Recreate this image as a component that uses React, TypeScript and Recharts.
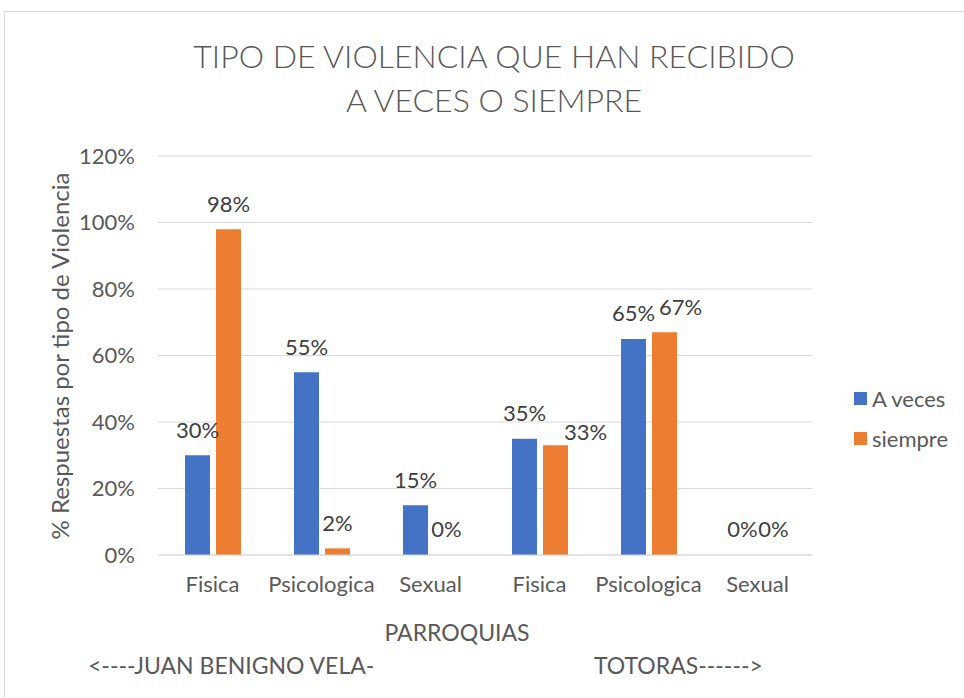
import React from 'react';
import { BarChart, Bar, XAxis, YAxis, CartesianGrid, LabelList, Cell } from 'recharts';

const categories = ['Fisica', 'Psicologica', 'Sexual', 'Fisica', 'Psicologica', 'Sexual'];
const aVeces = [30, 55, 15, 35, 65, 0];
const siempre = [98, 2, 0, 33, 67, 0];
const yTicks = [0, 20, 40, 60, 80, 100, 120];

const data = categories.map((name, i) => ({ name, aVeces: aVeces[i], siempre: siempre[i] }));

const FONT = 'Lato, "Open Sans", sans-serif';
const GRAY = '#595959';
const LABEL = '#404040';
const BLUE = '#4472C4';
const ORANGE = '#ED7D31';
const LABEL_SIZE = 22;
const LABEL_GAP = 26;

// manual nudges of the "siempre" labels that were dragged aside in the original
const siempreNudge: Record<number, [number, number]> = { 3: [30, 12], 4: [16, 0] };

const pct = (v: any) => `${v}%`;
// zero bars get a 1px invisible bar so their "0%" label still shows
const minSize = (v: any) => (v === 0 ? 1 : 0);

const makeLabel = (nudge: Record<number, [number, number]>) => (props: any) => {
  const { x, y, width, value, index } = props;
  const [dx, dy] = nudge[index] || [0, 0];
  return (
    <text
      x={Number(x) + Number(width) / 2 + dx}
      y={Number(y) - LABEL_GAP + dy}
      textAnchor="middle"
      dominantBaseline="central"
      fill={LABEL}
      fontSize={LABEL_SIZE}
      fontFamily={FONT}
    >
      {pct(value)}
    </text>
  );
};

const App: React.FC = () => {
  return (
    <div style={{ position: 'absolute', left: 0, top: 0, width: 964, height: 698, background: '#fff', overflow: 'hidden', fontFamily: FONT }}>
      <div style={{ position: 'absolute', left: 4, top: 11, width: 980, height: 720, border: '1px solid #d9d9d9' }} />

      <div style={{ position: 'absolute', left: 0, top: 34, width: 988, textAlign: 'center', color: GRAY, fontSize: 32, lineHeight: '44px', fontWeight: 300 }}>
        TIPO DE VIOLENCIA QUE HAN RECIBIDO
        <br />
        A VECES O SIEMPRE
      </div>

      <BarChart
        width={964}
        height={698}
        data={data}
        margin={{ top: 156, right: 152, bottom: 113, left: 0 }}
        barSize={25}
        barGap={6}
        style={{ position: 'absolute', left: 0, top: 0 }}
      >
        <CartesianGrid vertical={false} stroke="#d9d9d9" />
        <XAxis
          dataKey="name"
          height={30}
          tickLine={false}
          axisLine={{ stroke: '#d9d9d9' }}
          tick={{ fill: GRAY, fontSize: 22, fontFamily: FONT }}
          tickMargin={15}
          interval={0}
        />
        <YAxis
          width={158}
          domain={[0, 120]}
          ticks={yTicks}
          tickFormatter={pct}
          tickLine={false}
          axisLine={false}
          tick={{ fill: GRAY, fontSize: 22, fontFamily: FONT }}
          tickMargin={17}
        />
        <Bar dataKey="aVeces" fill={BLUE} minPointSize={minSize} isAnimationActive={false}>
          {aVeces.map((v, i) => (
            <Cell key={i} fill={v === 0 ? 'transparent' : BLUE} />
          ))}
          <LabelList dataKey="aVeces" content={makeLabel({})} />
        </Bar>
        <Bar dataKey="siempre" fill={ORANGE} minPointSize={minSize} isAnimationActive={false}>
          {siempre.map((v, i) => (
            <Cell key={i} fill={v === 0 ? 'transparent' : ORANGE} />
          ))}
          <LabelList dataKey="siempre" content={makeLabel(siempreNudge)} />
        </Bar>
      </BarChart>

      <div
        style={{
          position: 'absolute',
          left: 59,
          top: 356,
          transform: 'translate(-50%, -50%) rotate(-90deg)',
          whiteSpace: 'nowrap',
          color: GRAY,
          fontSize: 24,
        }}
      >
        % Respuestas por tipo de Violencia
      </div>

      <div style={{ position: 'absolute', left: 854, top: 383, color: GRAY, fontSize: 22 }}>
        <div style={{ display: 'flex', alignItems: 'center', height: 30 }}>
          <span style={{ width: 13, height: 13, background: BLUE, display: 'inline-block', marginRight: 5 }} />
          A veces
        </div>
        <div style={{ display: 'flex', alignItems: 'center', height: 30, marginTop: 10 }}>
          <span style={{ width: 13, height: 13, background: ORANGE, display: 'inline-block', marginRight: 5 }} />
          siempre
        </div>
      </div>

      <div style={{ position: 'absolute', left: 357, width: 200, top: 618, textAlign: 'center', color: GRAY, fontSize: 23 }}>
        PARROQUIAS
      </div>
      <div style={{ position: 'absolute', left: 88, top: 651, color: GRAY, fontSize: 23, whiteSpace: 'nowrap' }}>
        {'<----JUAN BENIGNO VELA-'}
      </div>
      <div style={{ position: 'absolute', left: 594, top: 651, color: GRAY, fontSize: 23, whiteSpace: 'nowrap' }}>
        {'TOTORAS------>'}
      </div>
    </div>
  );
};

export default App;
